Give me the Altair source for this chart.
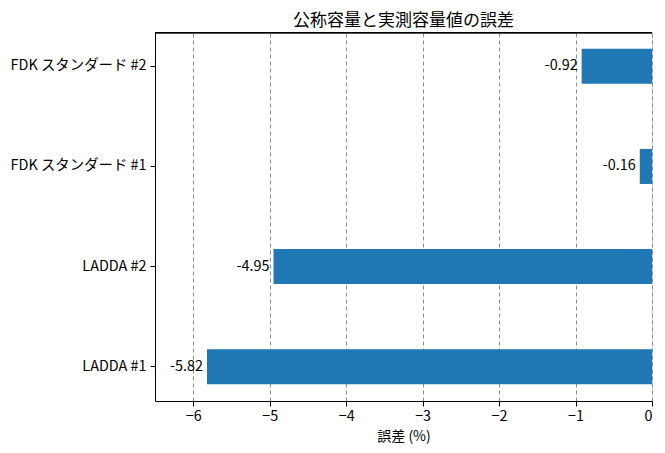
import altair as alt
import pandas as pd

categories = ["FDK スタンダード #2", "FDK スタンダード #1", "LADDA #2", "LADDA #1"]
errors = [-0.92, -0.16, -4.95, -5.82]
labels = ["-0.92", "-0.16", "-4.95", "-5.82"]
x_ticks = [-6, -5, -4, -3, -2, -1, 0]

df = pd.DataFrame({"name": categories, "err": errors, "lab": labels})

FONT = "Noto Sans CJK JP"
FS = 14.4

y_enc = alt.Y(
    "name:N",
    sort=categories,
    title=None,
    scale=alt.Scale(paddingInner=0.65, paddingOuter=0.1675),
    axis=alt.Axis(
        labelFont=FONT, labelFontSize=FS, labelColor="black",
        tickColor="black", tickSize=5, labelPadding=4,
        domainColor="black", grid=False,
    ),
)

x_enc = alt.X(
    "err:Q",
    title="誤差 (%)",
    scale=alt.Scale(domain=[-6.5, 0], nice=False, zero=False),
    axis=alt.Axis(
        values=x_ticks,
        format="d",
        labelExpr="replace(datum.label, '-', '−')",
        labelFont=FONT, labelFontSize=FS, labelColor="black",
        titleFont=FONT, titleFontSize=14, titleColor="black", titleFontWeight="normal",
        tickColor="black", tickSize=5, labelPadding=3, titlePadding=7,
        domainColor="black",
        grid=True, gridColor="#808080", gridDash=[4, 3], gridWidth=0.9,
    ),
)

bars = alt.Chart(df).mark_bar(color="#1f77b4").encode(
    y=y_enc,
    x=x_enc,
    x2=alt.datum(0),
)

text = alt.Chart(df).mark_text(
    align="right", baseline="middle", dx=-4, font=FONT, fontSize=FS, color="black"
).encode(
    y=alt.Y("name:N", sort=categories),
    x=alt.X("err:Q"),
    text="lab:N",
)

border = alt.Chart(df).mark_rule(color="black", strokeWidth=1.2).encode(
    x=alt.value(0), x2=alt.value(497), y=alt.value(0.6)
)

chart = (
    alt.layer(bars, text, border)
    .properties(
        width=497,
        height=369,
        title=alt.TitleParams(
            "公称容量と実測容量値の誤差",
            font=FONT, fontSize=17, fontWeight="normal", color="black", offset=2,
        ),
        autosize=alt.AutoSizeParams(type="none"),
        padding={"left": 147, "top": 24, "right": 5, "bottom": 44},
    )
    .configure_view(stroke="black", strokeWidth=1)
    .configure(background="white")
)

chart.save("out.html", embed_options={"renderer": "svg", "actions": False})
